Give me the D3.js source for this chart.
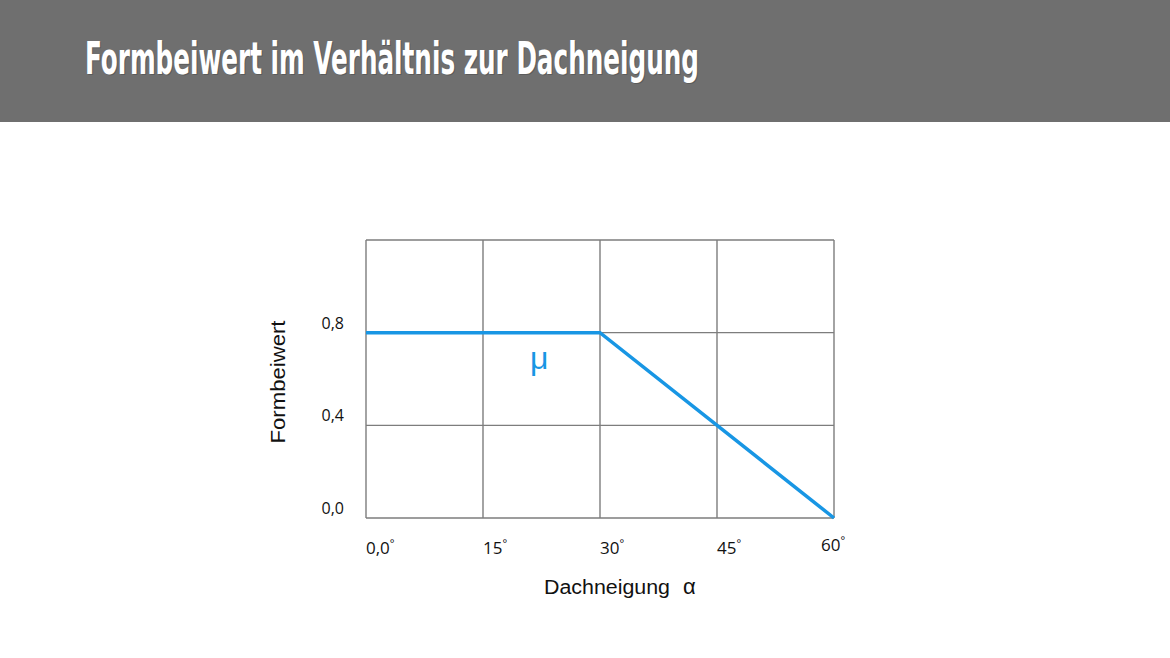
<!DOCTYPE html>
<html>
<head>
<meta charset="utf-8">
<script src="https://cdn.jsdelivr.net/npm/d3@7"></script>
<style>
  html, body { margin: 0; padding: 0; background: #fff; }
  svg { display: block; }
</style>
</head>
<body>
<svg id="chart"></svg>
<script>
// Data: Formbeiwert mu over Dachneigung alpha
const slopeDeg = [0, 30, 60];
const muValues = [0.8, 0.8, 0.0];
const xTicks = [0, 15, 30, 45, 60];
const xTickLabels = ['0,0', '15', '30', '45', '60'];
const yTicks = [0, 0.4, 0.8];
const yTickLabels = ['0,0', '0,4', '0,8'];
const gridY = [0, 0.4, 0.8, 1.2];

const W = 1170, H = 658;
const svg = d3.select('#chart').attr('width', W).attr('height', H);

// header band
svg.append('rect').attr('x', 0).attr('y', 0).attr('width', W).attr('height', 122).attr('fill', '#6f6f6f');
const titleText = 'Formbeiwert im Verhältnis zur Dachneigung';
const titleFont = '"Liberation Sans Narrow", "DejaVu Sans Condensed", sans-serif';
svg.append('text')
  .attr('x', 86).attr('y', 75)
  .attr('fill', '#444').attr('opacity', 0.45)
  .attr('font-family', titleFont)
  .attr('font-weight', 'bold').attr('font-size', 45)
  .attr('textLength', 614).attr('lengthAdjust', 'spacingAndGlyphs')
  .text(titleText);
svg.append('text')
  .attr('x', 85).attr('y', 74)
  .attr('fill', '#ffffff')
  .attr('font-family', titleFont)
  .attr('font-weight', 'bold').attr('font-size', 45)
  .attr('textLength', 614).attr('lengthAdjust', 'spacingAndGlyphs')
  .text(titleText);

// scales
const x = d3.scaleLinear().domain([0, 60]).range([366, 834]);
const y = d3.scaleLinear().domain([0, 1.2]).range([518, 240]);

const grid = svg.append('g').attr('stroke', '#7d7d7d').attr('stroke-width', 1.4);
grid.selectAll('line.v').data(xTicks).join('line').attr('class', 'v')
  .attr('x1', d => x(d)).attr('x2', d => x(d))
  .attr('y1', y(0)).attr('y2', y(1.2));
grid.selectAll('line.h').data(gridY).join('line').attr('class', 'h')
  .attr('x1', x(0)).attr('x2', x(60))
  .attr('y1', d => y(d)).attr('y2', d => y(d));

// y tick labels
svg.append('g').selectAll('text').data(yTicks).join('text')
  .attr('x', 344).attr('y', d => y(d) - 4)
  .attr('text-anchor', 'end')
  .attr('font-family', '"Open Sans", "Noto Sans", sans-serif')
  .attr('font-size', 16).attr('fill', '#111')
  .text((d, i) => yTickLabels[i]);

// x tick labels with superscript degree
const xl = svg.append('g').selectAll('text').data(xTicks).join('text')
  .attr('x', (d, i) => i === xTicks.length - 1 ? x(d) - 13 : x(d))
  .attr('y', (d, i) => i === xTicks.length - 1 ? 551 : 554)
  .attr('font-family', '"Open Sans", "Noto Sans", sans-serif')
  .attr('font-size', 17).attr('fill', '#111');
xl.append('tspan').text((d, i) => xTickLabels[i]);
xl.append('tspan').attr('dy', -7).attr('font-size', 11).text('°');

// axis titles
svg.append('text')
  .attr('x', 544).attr('y', 594)
  .attr('font-family', '"Liberation Sans", Arial, sans-serif')
  .attr('font-size', 20).attr('fill', '#111')
  .attr('textLength', 126).attr('lengthAdjust', 'spacingAndGlyphs')
  .text('Dachneigung');
svg.append('text')
  .attr('x', 683).attr('y', 594)
  .attr('font-family', '"Liberation Sans", Arial, sans-serif')
  .attr('font-size', 22).attr('fill', '#111')
  .text('α');
svg.append('text')
  .attr('transform', 'translate(285,382) rotate(-90)')
  .attr('text-anchor', 'middle')
  .attr('font-family', '"Liberation Sans", Arial, sans-serif')
  .attr('font-size', 21).attr('fill', '#111')
  .attr('textLength', 123).attr('lengthAdjust', 'spacingAndGlyphs')
  .text('Formbeiwert');

// mu line
const line = d3.line().x((d, i) => x(slopeDeg[i])).y(d => y(d));
svg.append('path')
  .datum(muValues)
  .attr('d', line)
  .attr('fill', 'none')
  .attr('stroke', '#1896e4')
  .attr('stroke-width', 3.5)
  .attr('stroke-linejoin', 'miter');

svg.append('text')
  .attr('x', x(22.2)).attr('y', 369)
  .attr('text-anchor', 'middle')
  .attr('font-family', '"Liberation Sans", Arial, sans-serif')
  .attr('font-size', 32).attr('fill', '#1896e4')
  .text('μ');
</script>
</body>
</html>
